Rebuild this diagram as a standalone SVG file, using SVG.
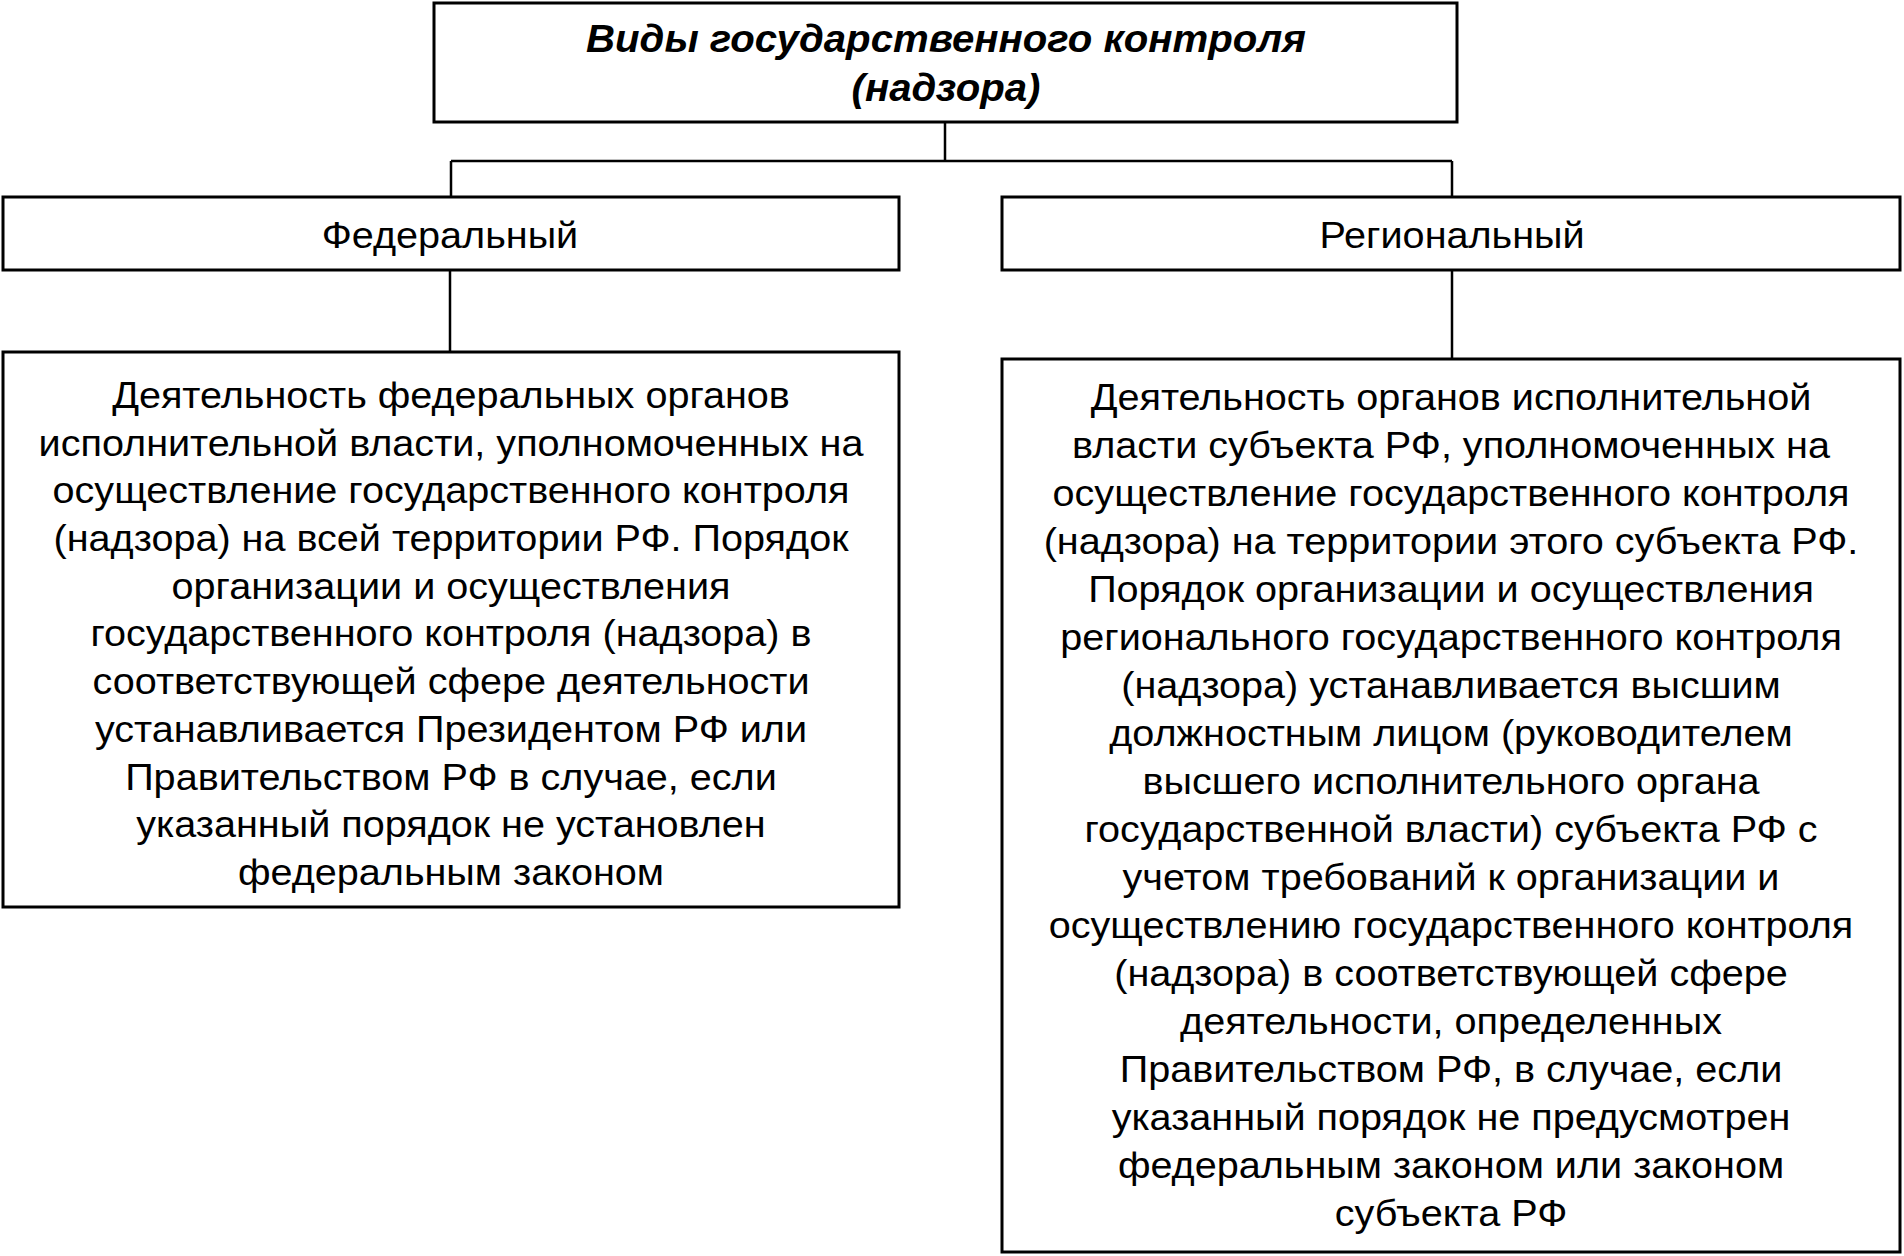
<svg xmlns="http://www.w3.org/2000/svg" width="1904" height="1256" viewBox="0 0 1904 1256">
<style>
.box{fill:#fff;stroke:#000;stroke-width:3}
.con{fill:none;stroke:#000;stroke-width:2.5}
.t{font-family:"Liberation Sans",Arial,sans-serif;font-size:37px;fill:#000;text-anchor:middle}
.title{font-family:"Liberation Sans",Arial,sans-serif;font-size:39px;font-weight:bold;font-style:italic;fill:#000;text-anchor:middle}
</style>
<rect x="0" y="0" width="1904" height="1256" fill="#fff"/>
<g id="connectors">
<path class="con" d="M945,123 V161 M451,161 H1452 M451,161 V197 M1452,161 V197 M450,270 V352 M1452,270 V359"/>
</g>
<g id="node-title">
<rect class="box" x="434" y="3" width="1023" height="119"/>
<g transform="translate(946,0) scale(1.03,1)">
<text class="title" x="0" y="52">Виды государственного контроля</text>
<text class="title" x="0" y="101">(надзора)</text>
</g>
</g>
<g id="node-federal">
<rect class="box" x="3" y="197" width="896" height="73"/>
<g transform="translate(450,0) scale(1.07,1)">
<text class="t" x="0" y="248">Федеральный</text>
</g>
</g>
<g id="node-regional">
<rect class="box" x="1002" y="197" width="898" height="73"/>
<g transform="translate(1452,0) scale(1.07,1)">
<text class="t" x="0" y="248">Региональный</text>
</g>
</g>
<g id="node-federal-desc">
<rect class="box" x="3" y="352" width="896" height="555"/>
<g transform="translate(451,0) scale(1.07,1)">
<text class="t" x="0" y="408">Деятельность федеральных органов</text>
<text class="t" x="0" y="455.7">исполнительной власти, уполномоченных на</text>
<text class="t" x="0" y="503.4">осуществление государственного контроля</text>
<text class="t" x="0" y="551.1">(надзора) на всей территории РФ. Порядок</text>
<text class="t" x="0" y="598.8">организации и осуществления</text>
<text class="t" x="0" y="646.5">государственного контроля (надзора) в</text>
<text class="t" x="0" y="694.2">соответствующей сфере деятельности</text>
<text class="t" x="0" y="741.9">устанавливается Президентом РФ или</text>
<text class="t" x="0" y="789.6">Правительством РФ в случае, если</text>
<text class="t" x="0" y="837.3">указанный порядок не установлен</text>
<text class="t" x="0" y="885">федеральным законом</text>
</g>
</g>
<g id="node-regional-desc">
<rect class="box" x="1002" y="359" width="898" height="893"/>
<g transform="translate(1451,0) scale(1.07,1)">
<text class="t" x="0" y="410">Деятельность органов исполнительной</text>
<text class="t" x="0" y="458">власти субъекта РФ, уполномоченных на</text>
<text class="t" x="0" y="506">осуществление государственного контроля</text>
<text class="t" x="0" y="554">(надзора) на территории этого субъекта РФ.</text>
<text class="t" x="0" y="602">Порядок организации и осуществления</text>
<text class="t" x="0" y="650">регионального государственного контроля</text>
<text class="t" x="0" y="698">(надзора) устанавливается высшим</text>
<text class="t" x="0" y="746">должностным лицом (руководителем</text>
<text class="t" x="0" y="794">высшего исполнительного органа</text>
<text class="t" x="0" y="842">государственной власти) субъекта РФ с</text>
<text class="t" x="0" y="890">учетом требований к организации и</text>
<text class="t" x="0" y="938">осуществлению государственного контроля</text>
<text class="t" x="0" y="986">(надзора) в соответствующей сфере</text>
<text class="t" x="0" y="1034">деятельности, определенных</text>
<text class="t" x="0" y="1082">Правительством РФ, в случае, если</text>
<text class="t" x="0" y="1130">указанный порядок не предусмотрен</text>
<text class="t" x="0" y="1178">федеральным законом или законом</text>
<text class="t" x="0" y="1226">субъекта РФ</text>
</g>
</g>
</svg>
